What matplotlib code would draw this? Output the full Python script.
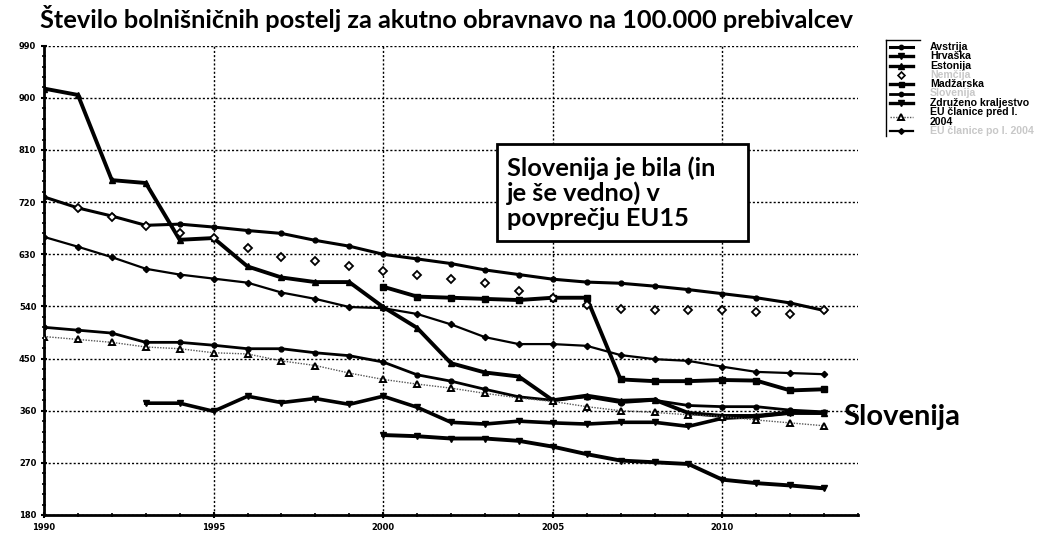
import numpy as np
import matplotlib
matplotlib.use("Agg")
import matplotlib.pyplot as plt
from matplotlib.lines import Line2D
from matplotlib.patches import Rectangle

nan = np.nan
years = list(range(1990, 2014))

avstrija = [729, 710, 696, 680, 682, 677, 671, 666, 654, 644, 630, 622, 614, 603,
            595, 587, 582, 580, 575, 569, 562, 555, 546, 533]
hrvaska = [nan, nan, nan, 373, 373, 359, 385, 374, 381, 371, 385, 366, 340, 337,
           342, 339, 337, 340, 340, 333, 347, 350, 356, 356]
estonija = [916, 905, 758, 753, 655, 658, 609, 590, 582, 582, 539, 503, 442, 426,
            419, 378, 386, 377, 379, 356, 351, 351, 357, 356]
nemcija = [nan, 710, 695, 679, 666, 658, 640, 625, 618, 609, 602, 595, 587, 580,
           567, 554, 542, 536, 533, 534, 533, 530, 527, 533]
madzarska = [nan] * 10 + [574, 557, 555, 553, 551, 555, 555, 414, 411, 411, 413,
                          412, 395, 397]
slovenija = [504, 499, 494, 478, 478, 473, 467, 467, 460, 455, 444, 422, 411, 397,
             384, 378, 384, 374, 378, 369, 367, 367, 361, 358]
zdruzeno = [nan] * 10 + [318, 316, 312, 312, 308, 298, 285, 274, 271, 268, 241,
                         235, 231, 226]
eu_pred = [488, 483, 478, 470, 467, 460, 458, 446, 438, 425, 414, 406, 399, 390,
           382, 376, 367, 360, 357, 353, 350, 344, 339, 334]
eu_po = [660, 643, 625, 605, 595, 588, 581, 564, 553, 539, 537, 527, 509, 487,
         475, 475, 472, 456, 449, 446, 436, 427, 425, 423]

yticks = [180, 270, 360, 450, 540, 630, 720, 810, 900, 990]
xticks = [1990, 1995, 2000, 2005, 2010]

title = "Število bolnišničnih postelj za akutno obravnavo na 100.000 prebivalcev"
note = "Slovenija je bila (in\nje še vedno) v\npovprečju EU15"

W, H = 1057, 554
fig = plt.figure(figsize=(W / 100, H / 100), dpi=100)
fig.patch.set_facecolor("white")

def fx(x):
    return x / W

def fy(y):
    return 1 - y / H

ax = fig.add_axes([fx(44), fy(515), fx(858) - fx(44), fy(45.7) - fy(515)])
ax.set_xlim(1990, 2014)
ax.set_ylim(180, 990)

K = "black"
series = [
    (avstrija, dict(color=K, lw=2.2, marker="o", ms=3.5, mfc=K)),
    (hrvaska, dict(color=K, lw=2.6, marker="v", ms=4.5, mfc=K)),
    (estonija, dict(color=K, lw=2.8, marker="^", ms=4.5, mfc=K)),
    (madzarska, dict(color=K, lw=2.8, marker="s", ms=4, mfc=K)),
    (slovenija, dict(color=K, lw=2.0, marker="o", ms=3.5, mfc=K)),
    (zdruzeno, dict(color=K, lw=2.8, marker="v", ms=4.5, mfc=K)),
    (eu_pred, dict(color="#555555", lw=1.0, ls=(0, (1, 1)), marker="^", ms=5,
                   mfc="white", mec=K, mew=1.4)),
    (eu_po, dict(color=K, lw=1.6, marker="D", ms=3.2, mfc=K)),
]
for vals, st in series:
    ax.plot(years, vals, zorder=3, **st)
ax.plot(years, nemcija, ls="none", marker="D", ms=4.5, mfc="white", mec=K,
        mew=1.3, zorder=4)

ax.set_xticks(xticks)
ax.set_xticks(years + [2014], minor=True)
ax.set_yticks(yticks)
ax.set_yticks(np.arange(180, 991, 18), minor=True)
ax.set_xticklabels([str(v) for v in xticks], fontsize=6, fontweight="bold")
ax.set_yticklabels([str(v) for v in yticks], fontsize=6, fontweight="bold")
ax.tick_params(axis="both", which="major", length=5, width=1.5, direction="inout",
               pad=3)
ax.tick_params(axis="both", which="minor", length=3, width=1.2, direction="inout")
ax.grid(True, which="major", color=K, ls=(0, (1.5, 1.5)), lw=1.0)
for s in ("top", "right"):
    ax.spines[s].set_visible(False)
for s in ("left", "bottom"):
    ax.spines[s].set_linewidth(2.0)
ax.set_facecolor("none")

fig.text(fx(40), fy(19), title, fontsize=18.3, fontweight="bold",
         family="Lato", ha="left", va="center")

# annotation box
box = Rectangle((fx(497), fy(241)), fx(748) - fx(497), fy(144) - fy(241),
                transform=fig.transFigure, facecolor="white", edgecolor=K,
                lw=2.0, zorder=5)
fig.patches.append(box)
fig.text(fx(507), fy(193), note, fontsize=18.3, fontweight="bold",
         family="Lato", ha="left", va="center", linespacing=1.08,
         zorder=6)

fig.text(fx(843), fy(417), "Slovenija", fontsize=21, fontweight="bold",
         family="Lato", ha="left", va="center")

# legend
leg_labels = ["Avstrija", "Hrvaška", "Estonija", "Nemčija", "Madžarska",
              "Slovenija", "Združeno kraljestvo", "EU članice pred l.\n2004",
              "EU članice po l. 2004"]
leg_y = [47, 56.3, 65.6, 74.9, 84.2, 93.5, 102.8, 116.7, 130.7]
leg_style = [series[0][1], series[1][1], series[2][1], None, series[3][1],
             series[4][1], series[5][1], series[6][1], series[7][1]]
grey = ["Nemčija", "Slovenija", "EU članice po l. 2004"]
for lab, y, st in zip(leg_labels, leg_y, leg_style):
    if st is None:
        ln = Line2D([fx(901)], [fy(y)], ls="none", marker="D", ms=3.5,
                    mfc="white", mec=K, mew=1.2, transform=fig.transFigure)
    else:
        s2 = dict(st)
        s2["ms"] = s2.get("ms", 4) * 0.9
        s2["lw"] = min(s2.get("lw", 2), 2.4)
        ln = Line2D([fx(890), fx(901), fx(913)], [fy(y)] * 3,
                    markevery=[1], transform=fig.transFigure, **s2)
    fig.lines.append(ln)
    col = "#c8c8c8" if lab in grey else K
    fig.text(fx(930), fy(y), lab, fontsize=7.6, fontweight="bold",
             family="Liberation Sans", color=col, ha="left", va="center",
             linespacing=0.98)
fig.lines.append(Line2D([fx(886), fx(886)], [fy(40), fy(136)], color=K, lw=1.0,
                        transform=fig.transFigure))
fig.lines.append(Line2D([fx(886), fx(920)], [fy(40), fy(40)], color=K, lw=1.0,
                        transform=fig.transFigure))

fig.savefig("out.png", dpi=100, facecolor="white")
